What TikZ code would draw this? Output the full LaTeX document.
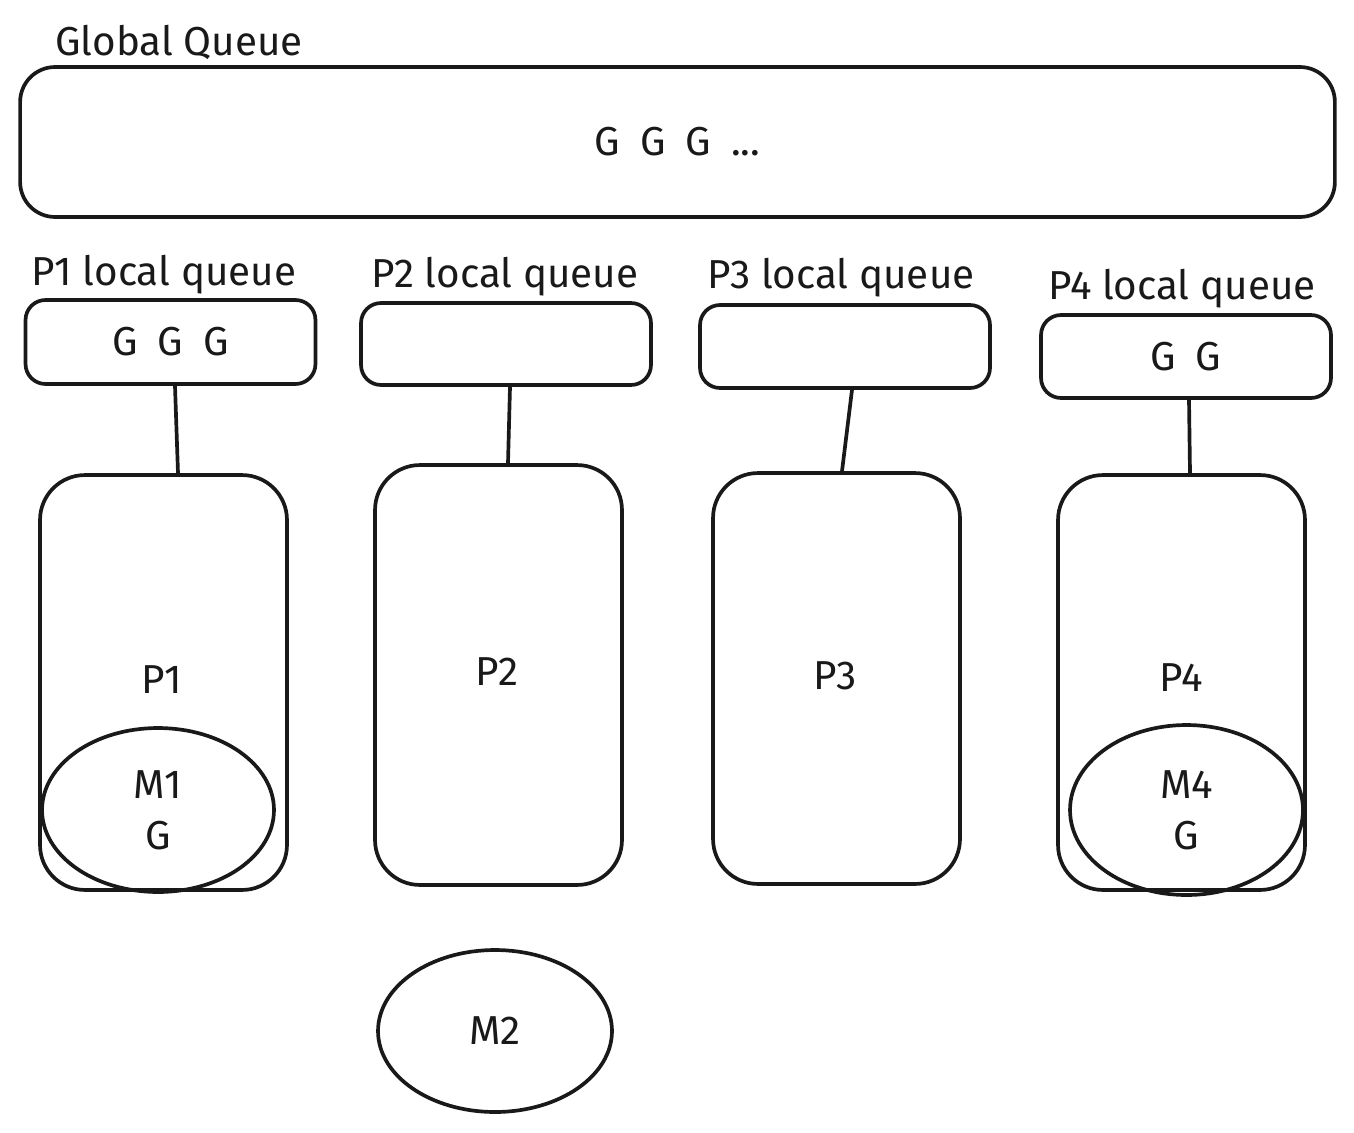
\documentclass[tikz,border=0pt]{standalone}
\usepackage{fontspec}
\setmainfont{Fira Sans}
\usetikzlibrary{shapes.geometric,calc}
\newcommand{\gsp}{\hspace{0.4cm}}
\begin{document}
\begin{tikzpicture}[x=0.02cm,y=-0.02cm,
  ink/.style={line width=2.1pt,draw=black!90},
  txt/.style={font=\fontsize{23}{29}\selectfont,text=black!90},
  gbox/.style={ink,rounded corners=0.7cm,minimum width=26.3cm,minimum height=3cm,txt},
  qbox/.style={ink,rounded corners=0.4cm,minimum width=5.8cm,minimum height=1.66cm,txt},
  pbox/.style={ink,rounded corners=0.9cm,minimum width=4.94cm,minimum height=8.3cm,txt},
  mell/.style={ink,ellipse,inner sep=0pt,minimum width=4.65cm,minimum height=3.3cm,txt,align=center},
  lab/.style={txt,inner sep=0pt}]
\useasboundingbox (0,0) rectangle (1354,1132);
% global queue
\node[lab,anchor=west] (gql) at (55,42) {Global Queue};
\node[gbox] (gq) at (677.5,142) {G\gsp G\gsp G\gsp ...};
% local queues
\node[lab] (q1l) at (164,275) {P1 local queue};
\node[lab] (q2l) at (505,277) {P2 local queue};
\node[lab] (q3l) at (841,278) {P3 local queue};
\node[lab] (q4l) at (1182,289) {P4 local queue};
\node[qbox,minimum height=1.68cm] (q1) at (170.5,342) {G\gsp G\gsp G};
\node[qbox,minimum height=1.64cm] (q2) at (506,344) {};
\node[qbox] (q3) at (845,346.5) {};
\node[qbox] (q4) at (1186,356.5) {G\gsp G};
% processors
\node[pbox] (p1) at (163.5,682.5) {};
\node[pbox,minimum height=8.4cm] (p2) at (498.5,675) {};
\node[pbox,minimum height=8.22cm] (p3) at (836.5,678.5) {};
\node[pbox] (p4) at (1181.5,682.5) {};
\node[lab] (p1t) at (162,680) {P1};
\node[lab] (p2t) at (497,672) {P2};
\node[lab] (p3t) at (835,676) {P3};
\node[lab] (p4t) at (1181,678) {P4};
% connectors
\draw[ink] ([xshift=0.09cm]q1.south) -- ([xshift=0.29cm]p1.north);
\draw[ink] ([xshift=0.08cm]q2.south) -- ([xshift=0.19cm]p2.north);
\draw[ink] ([xshift=0.14cm]q3.south) -- ([xshift=0.11cm]p3.north);
\draw[ink] ([xshift=0.06cm]q4.south) -- ([xshift=0.17cm]p4.north);
% machines
\node[mell,minimum width=4.64cm,minimum height=3.28cm] (m1) at (158,810) {M1\\G};
\node[mell,minimum width=4.66cm,minimum height=3.4cm] (m4) at (1186.5,810) {M4\\G};
\node[mell,minimum width=4.68cm,minimum height=3.24cm] (m2) at (495,1031) {M2};
\end{tikzpicture}
\end{document}
